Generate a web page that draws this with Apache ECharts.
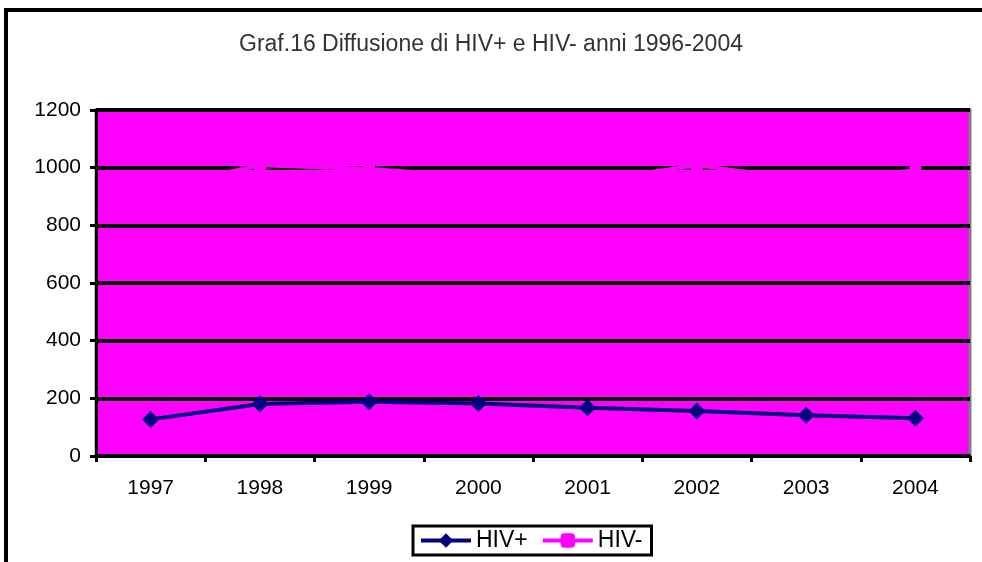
<!DOCTYPE html>
<html><head><meta charset="utf-8">
<script src="https://cdn.jsdelivr.net/npm/echarts@6/dist/echarts.min.js"></script>
<style>html,body{margin:0;padding:0;background:#fff}#c{width:982px;height:562px}</style>
</head><body><div id="c"></div>
<script>
const titleText = 'Graf.16 Diffusione di HIV+ e HIV- anni 1996-2004';
const categories = ['1997', '1998', '1999', '2000', '2001', '2002', '2003', '2004'];
const hivPos = [127, 180, 188, 182, 167, 156, 141, 131];
const hivNeg = [930, 1008, 995, 970, 955, 1008, 960, 990];
const yMin = 0, yMax = 1200, yInterval = 200;

const FONT = '"Liberation Sans", Arial, sans-serif';
const chart = echarts.init(document.getElementById('c'), null, {renderer: 'canvas'});
chart.setOption({
  animation: false,
  backgroundColor: '#ffffff',
  title: {
    text: titleText, left: 'center', top: 33, padding: 0,
    textStyle: {fontFamily: FONT, fontSize: 23, fontWeight: 'normal', color: '#333333'}
  },
  graphic: [{
    type: 'rect', silent: true, z: 100,
    shape: {x: 6, y: 10, width: 1000, height: 600},
    style: {fill: 'none', stroke: '#000', lineWidth: 4}
  }],
  legend: {
    left: 413, top: 526, padding: [3, 9, 3, 6],
    borderColor: '#000', borderWidth: 3, backgroundColor: '#fff',
    itemWidth: 50, itemHeight: 18, itemGap: 13,
    lineStyle: {width: 4},
    textStyle: {fontFamily: FONT, fontSize: 23, color: '#000'},
    data: ['HIV+', 'HIV-']
  },
  grid: {
    left: 96, right: 12, top: 110, bottom: 106,
    show: true, backgroundColor: '#ff00ff', borderColor: '#808080', borderWidth: 3
  },
  xAxis: {
    type: 'category', data: categories, boundaryGap: true,
    axisLine: {lineStyle: {color: '#000', width: 3}},
    axisTick: {show: true, length: 6, lineStyle: {color: '#000', width: 3}},
    axisLabel: {fontFamily: FONT, fontSize: 21, color: '#000', margin: 22},
    splitLine: {show: false}
  },
  yAxis: {
    type: 'value', min: yMin, max: yMax, interval: yInterval,
    axisLine: {show: true, lineStyle: {color: '#000', width: 3}},
    axisTick: {show: true, length: 6, lineStyle: {color: '#000', width: 3}},
    axisLabel: {fontFamily: FONT, fontSize: 21, color: '#000', margin: 15,
      formatter: function (v) { return String(v); }},
    splitLine: {show: true, lineStyle: {color: '#000', width: 4}}
  },
  series: [{
    name: 'HIV+', type: 'line', data: hivPos,
    symbol: 'diamond', symbolSize: 17,
    lineStyle: {color: '#000080', width: 4},
    itemStyle: {color: '#000080'}
  }, {
    name: 'HIV-', type: 'line', data: hivNeg,
    symbol: 'roundRect', symbolSize: 12,
    lineStyle: {color: '#ff00ff', width: 4},
    itemStyle: {color: '#ff00ff'}
  }]
});
</script>
</body></html>
